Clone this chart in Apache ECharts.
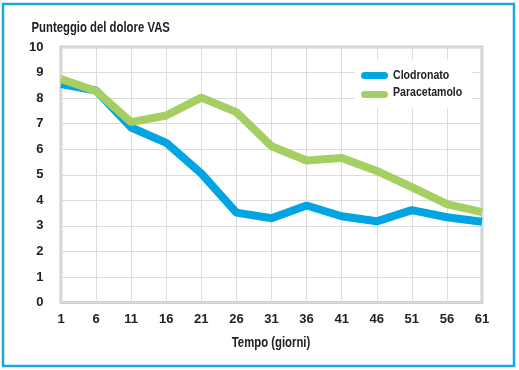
<!DOCTYPE html>
<html><head><meta charset="utf-8">
<script src="https://cdn.jsdelivr.net/npm/echarts@6/dist/echarts.min.js"></script>
<style>html,body{margin:0;padding:0;background:#fff}#c{width:519px;height:370px}</style>
</head><body><div id="c"></div>
<script>
const days = ['1','6','11','16','21','26','31','36','41','46','51','56','61'];
const yTicks = [0,1,2,3,4,5,6,7,8,9,10];
const clodronato = [8.55,8.3,6.85,6.25,5.05,3.52,3.3,3.8,3.38,3.18,3.62,3.34,3.16];
const paracetamolo = [8.75,8.28,7.06,7.32,8.02,7.45,6.12,5.56,5.66,5.15,4.52,3.85,3.54];
const seriesNames = ['Clodronato','Paracetamolo'];
const colors = ['#00a5e2','#a6cf63'];
const titleText = 'Punteggio del dolore VAS';
const xName = 'Tempo (giorni)';
const FONT = '"Liberation Sans", Arial, sans-serif';
const PILL = 'path://M3.5,0L23.5,0A3.5,3.5,0,0,1,23.5,7L3.5,7A3.5,3.5,0,0,1,3.5,0Z';
const condensed = (text, x, y, size, sx, align) => ({
  type:'text', x:x, y:y, scaleX:sx, z:10,
  style:{text:text, x:0, y:0, fill:'#222', font:'bold '+size+'px '+FONT, textAlign:align, textVerticalAlign:'middle'}
});
const chart = echarts.init(document.getElementById('c'));
chart.setOption({
  animation:false,
  graphic:[
    {type:'rect',shape:{x:3,y:4,width:511,height:362},style:{fill:'none',stroke:'#1ba6dd',lineWidth:2.5},z:10},
    {type:'rect',shape:{x:355,y:60,width:117,height:48},style:{fill:'#fff'},z:1},
    condensed(titleText, 31.5, 27.8, 14, 0.81, 'left'),
    condensed(xName, 271, 343, 14, 0.81, 'center'),
    condensed(seriesNames[0], 393, 75.3, 12, 0.88, 'left'),
    condensed(seriesNames[1], 393, 92.4, 12, 0.88, 'left')
  ],
  legend:[
    {top:72,left:361,padding:0,itemWidth:27,itemHeight:7,icon:PILL,formatter:()=>'',
     textStyle:{fontSize:6,lineHeight:6,padding:0},data:[seriesNames[0]],z:5},
    {top:91,left:361,padding:0,itemWidth:27,itemHeight:7,icon:PILL,formatter:()=>'',
     textStyle:{fontSize:6,lineHeight:6,padding:0},data:[seriesNames[1]],z:5}
  ],
  grid:{left:61,right:37,top:47,bottom:67.4,show:true,borderColor:'#d0d0d0',borderWidth:3},
  xAxis:{type:'category',data:days,boundaryGap:false,
    axisLine:{show:false},axisTick:{show:false},
    axisLabel:{fontFamily:FONT,fontWeight:'bold',fontSize:13,color:'#222',margin:10},
    splitLine:{show:true,lineStyle:{color:'#dcdcdc',width:1}}},
  yAxis:{type:'value',min:0,max:10,interval:1,
    axisLine:{show:false},axisTick:{show:false},
    axisLabel:{fontFamily:FONT,fontWeight:'bold',fontSize:13,color:'#222',margin:17.5,
      formatter:v=>yTicks.includes(v)?String(v):''},
    splitLine:{show:true,lineStyle:{color:'#dcdcdc',width:1}}},
  series:[
    {name:seriesNames[0],type:'line',data:clodronato,symbol:'none',color:colors[0],lineStyle:{width:8,color:colors[0]},z:2},
    {name:seriesNames[1],type:'line',data:paracetamolo,symbol:'none',color:colors[1],lineStyle:{width:8,color:colors[1]},z:3}
  ]
});
</script></body></html>
